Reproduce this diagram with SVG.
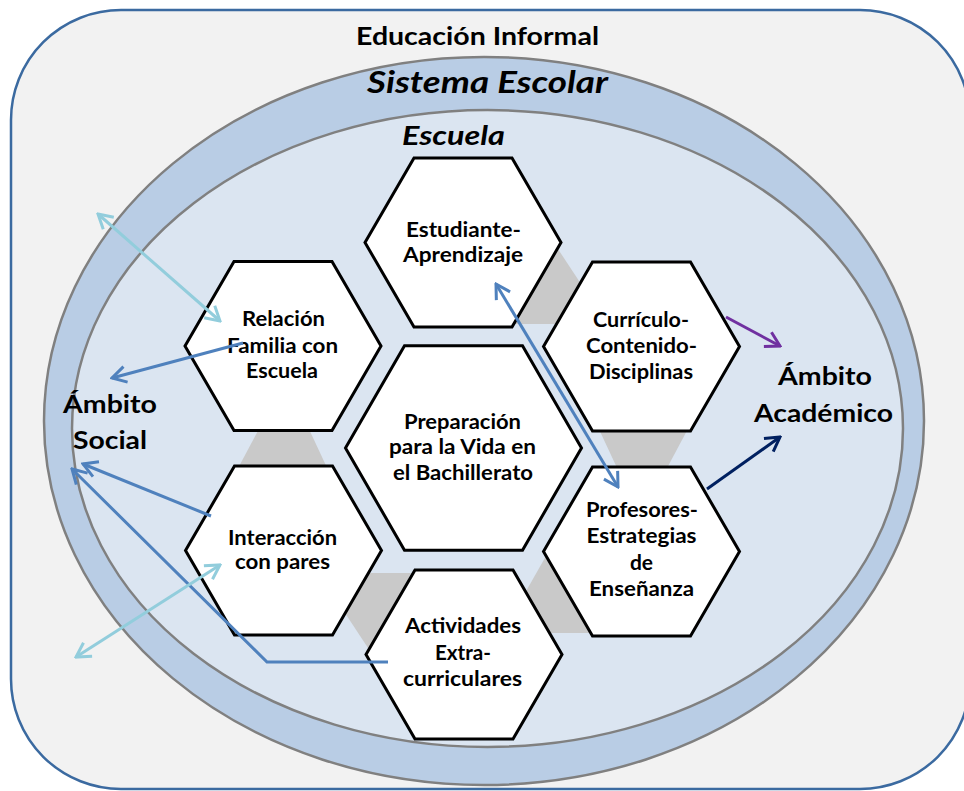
<svg xmlns="http://www.w3.org/2000/svg" xmlns:xlink="http://www.w3.org/1999/xlink" width="964" height="791" viewBox="0 0 964 791">
<style>
.t{font-family:Lato,"Liberation Sans",sans-serif;font-weight:700;fill:#000;text-anchor:middle}
.h{font-size:21px}
.amb{font-size:25px}
.it{font-style:italic}
.hex{fill:#fff;stroke:#000;stroke-width:3;stroke-linejoin:miter}
.grey{fill:#c9c9c9;stroke:none}
.ln{fill:none;stroke-width:3}
.lb{stroke:#92cddc}
.mb{stroke:#4f81bd}
.pu{stroke:#7030a0}
.nv{stroke:#002060}
</style>
<defs>
<polygon id="hexS" points="-98,0 -49,-84.5 49,-84.5 98,0 49,84.5 -49,84.5"/>
<marker id="aLB" viewBox="-16 -10 18 20" refX="0" refY="0" markerWidth="18" markerHeight="20" markerUnits="userSpaceOnUse" orient="auto-start-reverse"><path d="M-14,-8 L0,0 L-14,8" fill="none" stroke="#92cddc" stroke-width="3"/></marker>
<marker id="aMB" viewBox="-16 -10 18 20" refX="0" refY="0" markerWidth="18" markerHeight="20" markerUnits="userSpaceOnUse" orient="auto-start-reverse"><path d="M-14,-8 L0,0 L-14,8" fill="none" stroke="#4f81bd" stroke-width="3"/></marker>
<marker id="aPU" viewBox="-16 -10 18 20" refX="0" refY="0" markerWidth="18" markerHeight="20" markerUnits="userSpaceOnUse" orient="auto-start-reverse"><path d="M-14,-8 L0,0 L-14,8" fill="none" stroke="#7030a0" stroke-width="3"/></marker>
<marker id="aNV" viewBox="-16 -10 18 20" refX="0" refY="0" markerWidth="18" markerHeight="20" markerUnits="userSpaceOnUse" orient="auto-start-reverse"><path d="M-14,-8 L0,0 L-14,8" fill="none" stroke="#002060" stroke-width="3"/></marker>
</defs>
<rect width="964" height="791" fill="#ffffff"/>
<g id="educacion-informal">
<rect x="11" y="10" width="959" height="779" rx="110" ry="110" fill="#f2f2f2" stroke="#3b6aa0" stroke-width="2.5"/>
<text class="t" x="477.5" y="45" font-size="24" textLength="243" lengthAdjust="spacingAndGlyphs">Educación Informal</text>
</g>
<g id="sistema-escolar">
<ellipse cx="484" cy="421" rx="440" ry="364" fill="#b9cde5" stroke="#808080" stroke-width="2.5"/>
<text class="t it" x="487.5" y="93" font-size="30" textLength="241" lengthAdjust="spacingAndGlyphs">Sistema Escolar</text>
</g>
<g id="escuela">
<ellipse cx="487.5" cy="428.5" rx="415.5" ry="318.5" fill="#dbe5f1" stroke="#808080" stroke-width="2.5"/>
<text class="t it" x="453.5" y="145" font-size="26" textLength="103" lengthAdjust="spacingAndGlyphs">Escuela</text>
</g>
<g id="hex-links">
<polygon class="grey" points="554,243 585,290 566,324 515,324"/>
<polygon class="grey" points="597,425 690,425 666,470 618,470"/>
<polygon class="grey" points="550,549 521,600 545,633 600,633"/>
<polygon class="grey" points="372,654 341,607 360,573 411,573"/>
<polygon class="grey" points="329,472 236,472 260,427 308,427"/>
</g>
<g id="estudiante">
<use href="#hexS" class="hex" transform="translate(463,242.5)"/>
<text class="t h" x="463.5" y="237" textLength="115" lengthAdjust="spacingAndGlyphs">Estudiante-</text>
<text class="t h" x="463" y="262" textLength="120" lengthAdjust="spacingAndGlyphs">Aprendizaje</text>
</g>
<g id="curriculo">
<use href="#hexS" class="hex" transform="translate(641.5,346.5)"/>
<text class="t h" x="641" y="327" textLength="96" lengthAdjust="spacingAndGlyphs">Currículo-</text>
<text class="t h" x="641.5" y="353" textLength="111" lengthAdjust="spacingAndGlyphs">Contenido-</text>
<text class="t h" x="641" y="379" textLength="104" lengthAdjust="spacingAndGlyphs">Disciplinas</text>
</g>
<g id="profesores">
<use href="#hexS" class="hex" transform="translate(641.5,551.5)"/>
<text class="t h" x="642" y="517" textLength="112" lengthAdjust="spacingAndGlyphs">Profesores-</text>
<text class="t h" x="641.5" y="543" textLength="110" lengthAdjust="spacingAndGlyphs">Estrategias</text>
<text class="t h" x="641.5" y="570">de</text>
<text class="t h" x="641.5" y="596" textLength="105" lengthAdjust="spacingAndGlyphs">Enseñanza</text>
</g>
<g id="actividades">
<use href="#hexS" class="hex" transform="translate(464,654.5)"/>
<text class="t h" x="463" y="633" textLength="116" lengthAdjust="spacingAndGlyphs">Actividades</text>
<text class="t h" x="463" y="660" textLength="56" lengthAdjust="spacingAndGlyphs">Extra-</text>
<text class="t h" x="462.5" y="686" textLength="119" lengthAdjust="spacingAndGlyphs">curriculares</text>
</g>
<g id="interaccion">
<use href="#hexS" class="hex" transform="translate(283.5,550.5)"/>
<text class="t h" x="282.5" y="545" textLength="109" lengthAdjust="spacingAndGlyphs">Interacción</text>
<text class="t h" x="282.5" y="569" textLength="95" lengthAdjust="spacingAndGlyphs">con pares</text>
</g>
<g id="relacion">
<use href="#hexS" class="hex" transform="translate(283,346)"/>
<text class="t h" x="283.5" y="326" textLength="83" lengthAdjust="spacingAndGlyphs">Relación</text>
<text class="t h" x="282.5" y="353" textLength="111" lengthAdjust="spacingAndGlyphs">Familia con</text>
<text class="t h" x="282" y="378" textLength="72" lengthAdjust="spacingAndGlyphs">Escuela</text>
</g>
<g id="preparacion">
<polygon class="hex" points="345.5,448 404.5,345.8 522.5,345.8 581.5,448 522.5,550.2 404.5,550.2"/>
<text class="t h" x="462.5" y="429" textLength="117" lengthAdjust="spacingAndGlyphs">Preparación</text>
<text class="t h" x="462.5" y="454" textLength="147" lengthAdjust="spacingAndGlyphs">para la Vida en</text>
<text class="t h" x="463" y="480" textLength="140" lengthAdjust="spacingAndGlyphs">el Bachillerato</text>
</g>
<g id="ambito-social">
<text class="t amb" x="110" y="413" textLength="94" lengthAdjust="spacingAndGlyphs">Ámbito</text>
<text class="t amb" x="110" y="449" textLength="74" lengthAdjust="spacingAndGlyphs">Social</text>
</g>
<g id="ambito-academico">
<text class="t amb" x="825" y="385" textLength="94" lengthAdjust="spacingAndGlyphs">Ámbito</text>
<text class="t amb" x="823.5" y="422" textLength="139" lengthAdjust="spacingAndGlyphs">Académico</text>
</g>
<g id="connectors">
<line class="ln lb" x1="98" y1="214" x2="220" y2="321" marker-start="url(#aLB)" marker-end="url(#aLB)"/>
<line class="ln mb" x1="243" y1="343" x2="112" y2="378" marker-end="url(#aMB)"/>
<line class="ln mb" x1="211" y1="516" x2="83" y2="464" marker-end="url(#aMB)"/>
<polyline class="ln mb" points="388,662 267,662 72,469" marker-end="url(#aMB)"/>
<line class="ln lb" x1="76" y1="657" x2="220" y2="565" marker-start="url(#aLB)" marker-end="url(#aLB)"/>
<line class="ln mb" x1="496" y1="284" x2="618" y2="487" marker-start="url(#aMB)" marker-end="url(#aMB)"/>
<line class="ln pu" x1="726" y1="317" x2="780" y2="346" marker-end="url(#aPU)"/>
<line class="ln nv" x1="707" y1="489" x2="780" y2="437" marker-end="url(#aNV)"/>
</g>
</svg>
